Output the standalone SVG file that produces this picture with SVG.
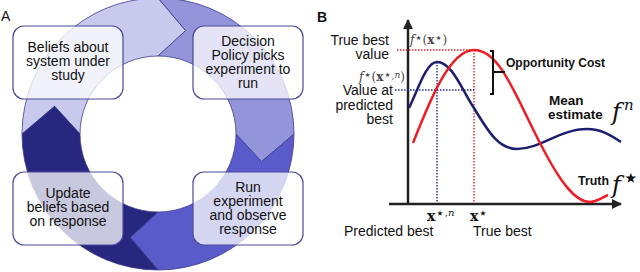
<svg xmlns="http://www.w3.org/2000/svg" width="640" height="272" viewBox="0 0 640 272">
<style>
.seg{stroke:#3c3c8e;stroke-width:0.8;stroke-linejoin:round}
.box{fill:#ffffff;fill-opacity:0.75;stroke:#4a4a9c;stroke-width:1.2}
.bt{font-family:"Liberation Sans",Arial,sans-serif;font-size:14px;fill:#111;text-anchor:middle}
.lbl{font-family:"Liberation Sans",Arial,sans-serif;font-size:14px;fill:#111}
.bl{font-family:"Liberation Sans",Arial,sans-serif;font-size:13.5px;font-weight:bold;fill:#111}
.m{font-family:"DejaVu Serif","Liberation Serif",serif;font-size:12px;fill:#444}
.mb{font-family:"DejaVu Serif","Liberation Serif",serif;font-size:14px;fill:#111}
.big{font-family:"DejaVu Serif","Liberation Serif",serif;font-style:italic;font-size:24px;fill:#111}
.st{font-family:"DejaVu Sans",sans-serif;font-style:normal;font-weight:normal}
.ax{stroke:#222;stroke-width:2.5;fill:none}
.dotr{stroke:#e8232a;stroke-width:1.4;stroke-dasharray:1.5 1.5;fill:none}
.dotb{stroke:#1e2a8a;stroke-width:1.4;stroke-dasharray:1.5 1.5;fill:none}
</style>
<defs>
<marker id="ah" viewBox="0 0 10 10" refX="9" refY="5" markerWidth="4" markerHeight="4" orient="auto"><path d="M0,0 L10,5 L0,10 z" fill="#222"/></marker>
</defs>
<rect width="640" height="272" fill="#fff"/>
<text x="1" y="21" class="lbl" font-size="15">A</text>
<g id="connectors">
<path class="seg" fill="#c9c9ee" d="M22,134 A136,136 0 0 1 158,-2 L185.7,30.6 L158,56 A78,78 0 0 0 80,134 L54.6,106.3 Z"/>
<path class="seg" fill="#9494db" d="M158,-2 A136,136 0 0 1 294,134 L261.4,161.7 L236,134 A78,78 0 0 0 158,56 L185.7,30.6 Z"/>
<path class="seg" fill="#5a5bcb" d="M294,134 A136,136 0 0 1 158,270 L130.3,237.4 L158,212 A78,78 0 0 0 236,134 L261.4,161.7 Z"/>
<path class="seg" fill="#27277f" d="M158,270 A136,136 0 0 1 22,134 L54.6,106.3 L80,134 A78,78 0 0 0 158,212 L130.3,237.4 Z"/>
</g>
<g id="box1">
<rect class="box" x="13" y="26" width="110" height="73" rx="11"/>
<text class="bt" x="68" y="52">Beliefs about</text>
<text class="bt" x="68" y="66">system under</text>
<text class="bt" x="68" y="80">study</text>
</g>
<g id="box2">
<rect class="box" x="193" y="26" width="110" height="73" rx="11"/>
<text class="bt" x="248" y="46">Decision</text>
<text class="bt" x="248" y="60">Policy picks</text>
<text class="bt" x="248" y="74">experiment to</text>
<text class="bt" x="248" y="88">run</text>
</g>
<g id="box3">
<rect class="box" x="13" y="172" width="110" height="73" rx="11"/>
<text class="bt" x="68" y="198">Update</text>
<text class="bt" x="68" y="212">beliefs based</text>
<text class="bt" x="68" y="226">on response</text>
</g>
<g id="box4">
<rect class="box" x="193" y="172" width="110" height="73" rx="11"/>
<text class="bt" x="248" y="192">Run</text>
<text class="bt" x="248" y="206">experiment</text>
<text class="bt" x="248" y="220">and observe</text>
<text class="bt" x="248" y="234">response</text>
</g>
<text x="317" y="22" class="lbl" font-size="15" font-weight="bold">B</text>
<path class="ax" d="M408,204 L408,20" marker-end="url(#ah)"/>
<path class="ax" d="M389,204 L621,204" marker-end="url(#ah)"/>
<path class="dotr" d="M397,50 L474,50 M474,50 L474,203"/>
<path class="dotb" d="M395,90 L474,90 M437,62 L437,203"/>
<path d="M409,108 C418,90 426,62 437,62 C452,62 462,90 474,108 C490,135 500,149 517,149 C540,149 560,129 587,129 C602,129 612,136 621,142" fill="none" stroke="#1c1f6e" stroke-width="2.5"/>
<path d="M413,143 C430,100 450,50 474,50 C500,50 515,95 540,143 C560,182 575,202 590,202 C597,202 603,197 608,195" fill="none" stroke="#ee1c25" stroke-width="2.5"/>
<path d="M490,51 L493,51 L493,94 L490,94 M493,72 L505,72" fill="none" stroke="#111" stroke-width="2"/>
<text class="bl" x="506" y="67" textLength="99" lengthAdjust="spacingAndGlyphs">Opportunity Cost</text>
<text class="bl" x="549" y="105">Mean</text>
<text class="bl" x="548" y="119">estimate</text>
<text class="bl" x="578" y="185" textLength="31" lengthAdjust="spacingAndGlyphs">Truth</text>
<text class="big" x="612" y="120">f<tspan font-size="15" dx="3" dy="-10">n</tspan></text>
<text class="big" x="612" y="193">f<tspan class="st" font-size="28" dx="1" dy="-6">⋆</tspan></text>
<text class="lbl" x="389" y="45" text-anchor="end">True best</text>
<text class="lbl" x="389" y="59" text-anchor="end">value</text>
<text class="m" x="410" y="44"><tspan font-style="italic">f</tspan><tspan class="st" dy="-2" font-size="13">⋆</tspan><tspan dy="2">(</tspan><tspan font-weight="bold">x</tspan><tspan class="st" dy="-2" font-size="13">⋆</tspan><tspan dy="2">)</tspan></text>
<text class="m" x="359" y="81"><tspan font-style="italic">f</tspan><tspan class="st" dy="-2" font-size="13">⋆</tspan><tspan dy="2">(</tspan><tspan font-weight="bold">x</tspan><tspan class="st" dy="-2" font-size="13">⋆</tspan><tspan font-size="9">,</tspan><tspan font-size="9" font-style="italic" dy="-1">n</tspan><tspan dy="3">)</tspan></text>
<text class="lbl" x="393" y="95" text-anchor="end">Value at</text>
<text class="lbl" x="393" y="110" text-anchor="end">predicted</text>
<text class="lbl" x="393" y="124" text-anchor="end">best</text>
<text class="mb" x="427" y="221" font-weight="bold">x<tspan class="st" dy="-3" font-size="15">⋆</tspan><tspan font-size="10" font-weight="normal" dy="-2">,</tspan><tspan font-size="10" font-weight="normal" font-style="italic">n</tspan></text>
<text class="mb" x="470" y="221" font-weight="bold">x<tspan class="st" dy="-3" font-size="15">⋆</tspan></text>
<text class="lbl" x="344" y="236">Predicted best</text>
<text class="lbl" x="473" y="236">True best</text>
</svg>
